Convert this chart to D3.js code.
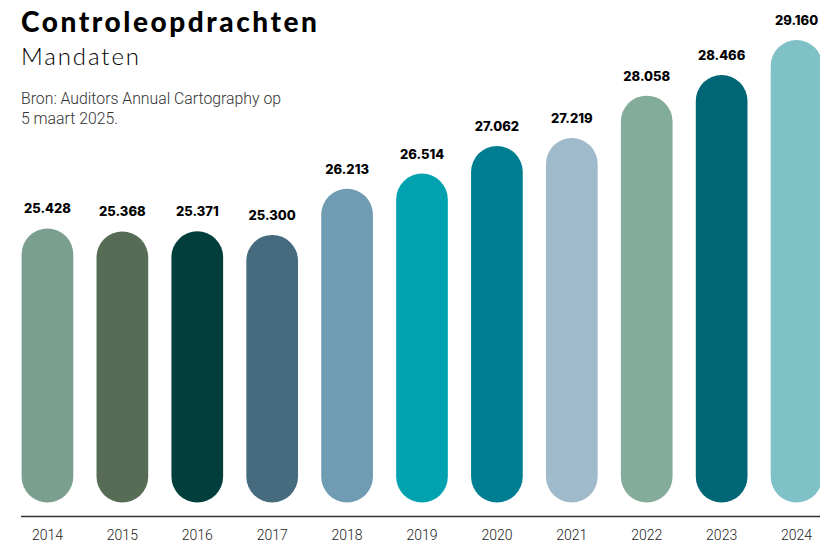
<!DOCTYPE html>
<html><head><meta charset="utf-8">
<script src="https://cdn.jsdelivr.net/npm/d3@7"></script>
<style>
html,body{margin:0;padding:0;background:#fff;}
svg{display:block;}
</style></head>
<body>
<svg id="chart" width="820" height="543"></svg>
<script>
const years = ["2014","2015","2016","2017","2018","2019","2020","2021","2022","2023","2024"];
const mandaten = [25428,25368,25371,25300,26213,26514,27062,27219,28058,28466,29160];
const barColors = ["#7b9f8e","#566c55","#023f3c","#466a7e","#6f9cb2","#00a2b0","#007e91","#9ebacb","#83ac9a","#006574","#80c1c8"];
const titleText = "Controleopdrachten";
const subtitleText = "Mandaten";
const sourceLines = ["Bron: Auditors Annual Cartography op","5 maart 2025."];

const svg = d3.select("#chart");
const fmt = d3.formatLocale({decimal:",",thousands:".",grouping:[3],currency:["€",""]}).format(",d");

const x = d3.scaleBand().domain(years).range([10, 834]).paddingInner(0.31).paddingOuter(0.155);
const y = d3.scaleLinear().domain([20000, 29160]).range([502.5, 40]);

const data = years.map((yr,i)=>({year:yr, value:mandaten[i], color:barColors[i]}));

svg.append("text").attr("x",21).attr("y",32)
  .attr("textLength",296).attr("lengthAdjust","spacing")
  .style("font-family","Lato").style("font-weight",900).style("font-size","28px")
  .style("fill","#000").text(titleText);
svg.append("text").attr("x",21).attr("y",65)
  .attr("textLength",118).attr("lengthAdjust","spacing")
  .style("font-family","Lato").style("font-weight",300).style("font-size","24px")
  .style("fill","#000").text(subtitleText);
svg.append("g").selectAll("text").data(sourceLines).join("text")
  .attr("x",21).attr("y",(d,i)=>104+i*20)
  .style("font-family","Roboto").style("font-weight",300).style("font-size","15.8px")
  .style("fill","#333").text(d=>d);

svg.append("g").selectAll("rect").data(data).join("rect")
  .attr("x",d=>x(d.year)).attr("width",x.bandwidth())
  .attr("y",d=>y(d.value)).attr("height",d=>y.range()[0]-y(d.value))
  .attr("rx",x.bandwidth()/2).attr("ry",x.bandwidth()/2)
  .attr("fill",d=>d.color);

svg.append("g").selectAll("text").data(data).join("text")
  .attr("x",d=>x(d.year)+x.bandwidth()/2).attr("y",d=>y(d.value)-15)
  .attr("text-anchor","middle")
  .style("font-family","Inter").style("font-weight",800).style("font-size","13px")
  .style("fill","#000").text(d=>fmt(d.value));

const axis = svg.append("g").attr("transform","translate(0,516.5)")
  .call(d3.axisBottom(x).tickSize(0).tickPadding(14));
axis.select(".domain").attr("d","M21,0H820").attr("stroke","#333").attr("stroke-width",1.6);
axis.selectAll("text").style("font-family","Roboto").style("font-weight",300)
  .style("font-size","14px").style("fill","#222");
</script>
</body></html>
